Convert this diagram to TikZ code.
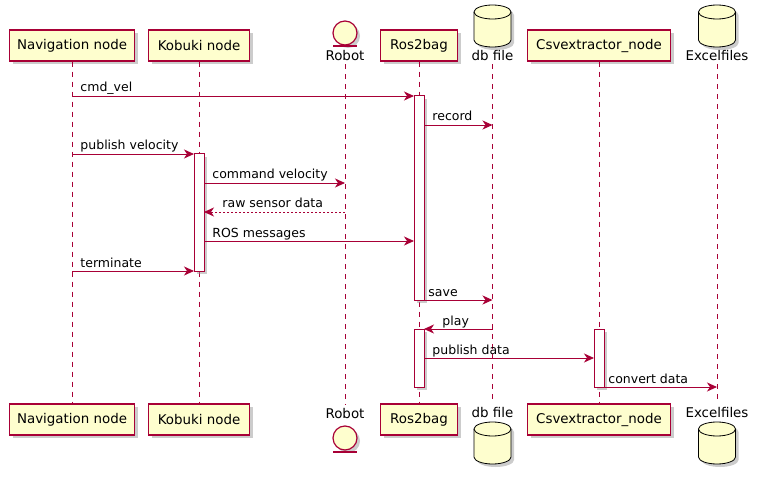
\documentclass[tikz,border=0pt]{standalone}
\usepackage{fontspec}
\setmainfont{DejaVu Sans}
\usetikzlibrary{arrows.meta,shadows}
\definecolor{umlred}{HTML}{A80036}
\definecolor{umlfill}{HTML}{FEFECE}

\begin{document}
\begin{tikzpicture}[x=1pt,y=1pt,
    shade box/.style={drop shadow={shadow xshift=3pt,shadow yshift=-3pt,fill=black!40}},
    part/.style={draw=umlred,line width=1.2pt,fill=umlfill,shade box,minimum height=31pt,inner sep=0pt,font=\fontsize{13.4}{15}\selectfont},
    partname/.style={inner sep=3pt,anchor=base,font=\fontsize{13.4}{15}\selectfont},
    life/.style={umlred,line width=0.8pt,dash pattern=on 5pt off 5pt},
    actbar/.style={draw=umlred,line width=1pt,fill=white,shade box,minimum width=10pt,inner sep=0pt,outer sep=0pt},
    msg/.style={umlred,line width=0.9pt,-{Stealth[length=10pt,width=9pt,inset=3pt]}},
    reply/.style={msg,dash pattern=on 2pt off 2pt},
    lbl/.style={anchor=base west,inner sep=0pt,text=black,font=\fontsize{12.5}{14}\selectfont}]

\useasboundingbox (0,0) rectangle (757,-478);

% participants, top and bottom
\foreach \n/\x/\w/\t in {nav/72/125/Navigation node, kob/199/101/Kobuki node,
                         ros/419/77/Ros2bag, csv/599/143/Csvextractor\_node}{
  \node[part,minimum width=\w pt] (\n) at (\x,-45.5) {\t};
  \node[part,minimum width=\w pt] (\n bot) at (\x,-419.5) {\t};
}

% entity
\node[partname] (robot) at (345,-61) {Robot};
\node[partname] (robotbot) at (345,-418) {Robot};
\draw[umlred,line width=1.2pt,fill=umlfill,shade box] (345,-33) circle[radius=12];
\draw[umlred,line width=1.2pt] (333,-46) -- (357,-46);
\draw[umlred,line width=1.2pt,fill=umlfill,shade box] (345,-438) circle[radius=12];
\draw[umlred,line width=1.2pt] (333,-452) -- (357,-452);

% databases
\node[partname] (db) at (492.5,-61) {db file};
\node[partname] (dbbot) at (492.5,-417) {db file};
\node[partname] (xl) at (717,-61) {Excelfiles};
\node[partname] (xlbot) at (717,-417) {Excelfiles};
\foreach \x/\y in {492.5/-5, 717/-5, 492.5/-422, 717/-422}{
  \draw[black,line width=0.8pt,fill=umlfill,shade box] ({\x-18.5},{\y-7}) -- ({\x-18.5},{\y-35})
     arc[start angle=180,end angle=360,x radius=18.5,y radius=7] -- ({\x+18.5},{\y-7})
     arc[start angle=0,end angle=180,x radius=18.5,y radius=7] -- cycle;
  \draw[black,line width=0.8pt] ({\x-18.5},{\y-7}) arc[start angle=180,end angle=360,x radius=18.5,y radius=7];
}

% lifelines
\foreach \n in {nav,kob,robot,ros,db,csv,xl}
  \draw[life] (\n.south) -- (\n bot.north);

% activations
\node[actbar,minimum height=117pt] (kobact) at (199,-212.5) {};
\node[actbar,minimum height=204pt] (rosact) at (419,-198) {};
\node[actbar,minimum height=58pt] (rosact2) at (419,-358) {};
\node[actbar,minimum height=58pt] (csvact) at (599,-358) {};

% messages
\draw[msg] (nav |- 0,-96) -- (rosact.west |- 0,-96) node[lbl,pos=0,xshift=8pt,yshift=4pt] {cmd\_vel};
\draw[msg] (rosact.east |- 0,-125) -- (db |- 0,-125) node[lbl,pos=0,xshift=8pt,yshift=4pt] {record};
\draw[msg] (nav |- 0,-154) -- (kobact.west |- 0,-154) node[lbl,pos=0,xshift=8pt,yshift=4pt] {publish velocity};
\draw[msg] (kobact.east |- 0,-183) -- (robot |- 0,-183) node[lbl,pos=0,xshift=8pt,yshift=4pt] {command velocity};
\draw[reply] (robot |- 0,-212) -- (kobact.east |- 0,-212) node[lbl,pos=1,xshift=18pt,yshift=4pt] {raw sensor data};
\draw[msg] (kobact.east |- 0,-241) -- (rosact.west |- 0,-241) node[lbl,pos=0,xshift=8pt,yshift=4pt] {ROS messages};
\draw[msg] (nav |- 0,-271) -- (kobact.west |- 0,-271) node[lbl,pos=0,xshift=8pt,yshift=4pt] {terminate};
\draw[msg] (rosact.east |- 0,-300) -- (db |- 0,-300) node[lbl,pos=0,xshift=4pt,yshift=4pt] {save};
\draw[msg] (db |- 0,-329) -- (rosact2.east |- 0,-329) node[lbl,pos=1,xshift=18pt,yshift=4pt] {play};
\draw[msg] (rosact2.east |- 0,-358) -- (csvact.west |- 0,-358) node[lbl,pos=0,xshift=8pt,yshift=4pt] {publish data};
\draw[msg] (csvact.east |- 0,-387) -- (xl |- 0,-387) node[lbl,pos=0,xshift=4pt,yshift=4pt] {convert data};
\end{tikzpicture}
\end{document}
